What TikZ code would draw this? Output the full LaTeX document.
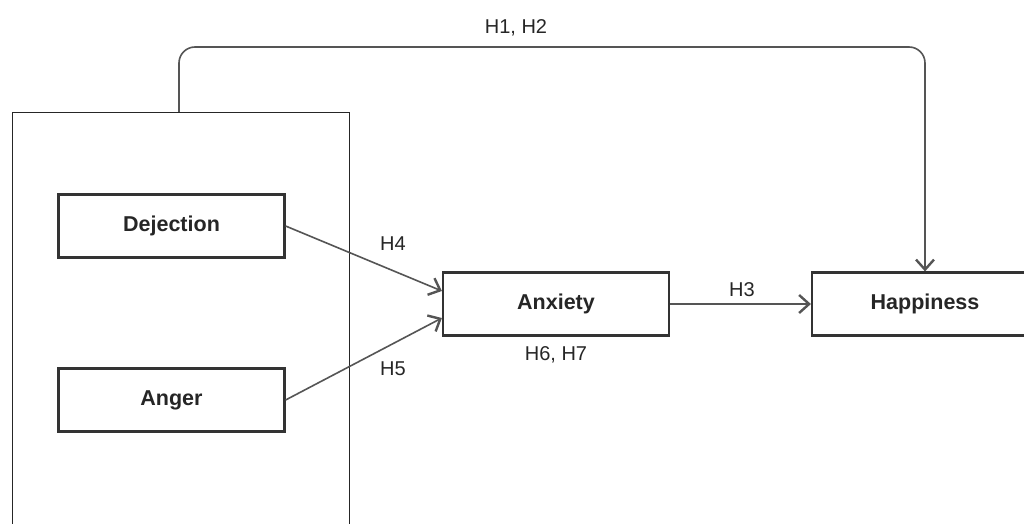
\documentclass[tikz,border=0pt]{standalone}
\usepackage{fontspec}
\setmainfont{Liberation Sans}
\usetikzlibrary{arrows.meta}
\definecolor{boxline}{HTML}{333333}
\definecolor{conline}{HTML}{555555}
\tikzset{
  box/.style={draw=boxline, line width=2.2pt, minimum width=226pt, minimum height=63pt, inner sep=0pt, font=\fontsize{21.5}{25}\selectfont\bfseries, text=black!85},
  conn/.style={draw=conline, line width=1.6pt, -{Straight Barb[length=10pt,width=18pt,line width=2.4pt]}},
  lab/.style={font=\fontsize{20}{23}\selectfont, text=black!85, inner sep=0pt}
}
\begin{document}
\begin{tikzpicture}[x=1pt,y=-1pt]
\useasboundingbox (0,0) rectangle (1024,524);
\clip (0,0) rectangle (1024,524);
\fill[white] (0,0) rectangle (1024,524);
\node[draw=black!85, line width=1.3pt, minimum width=337pt, minimum height=440pt, inner sep=0pt, anchor=north west] (outer) at (12,112) {};
\coordinate (start) at (179,112);
\node[box] (dej) at (171.5,226) {Dejection};
\node[box] (ang) at (171.5,400) {Anger};
\node[box] (anx) at (556,304) {Anxiety};
\node[box] (hap) at (925,304) {Happiness};
\draw[conn, rounded corners=16pt] (start) -- (179,47) -- (925,47) -- (hap.north);
\draw[conn] (dej.east) -- ([yshift=13pt]anx.west);
\draw[conn] (ang.east) -- ([yshift=-14pt]anx.west);
\draw[conn] (anx.east) -- (hap.west);
\node[lab] (h12) at (516,28) {H1, H2};
\node[lab] (h4) at (393,244) {H4};
\node[lab] (h5) at (393,369) {H5};
\node[lab] (h3) at (742,290) {H3};
\node[lab] (h67) at (556,355) {H6, H7};
\end{tikzpicture}
\end{document}
